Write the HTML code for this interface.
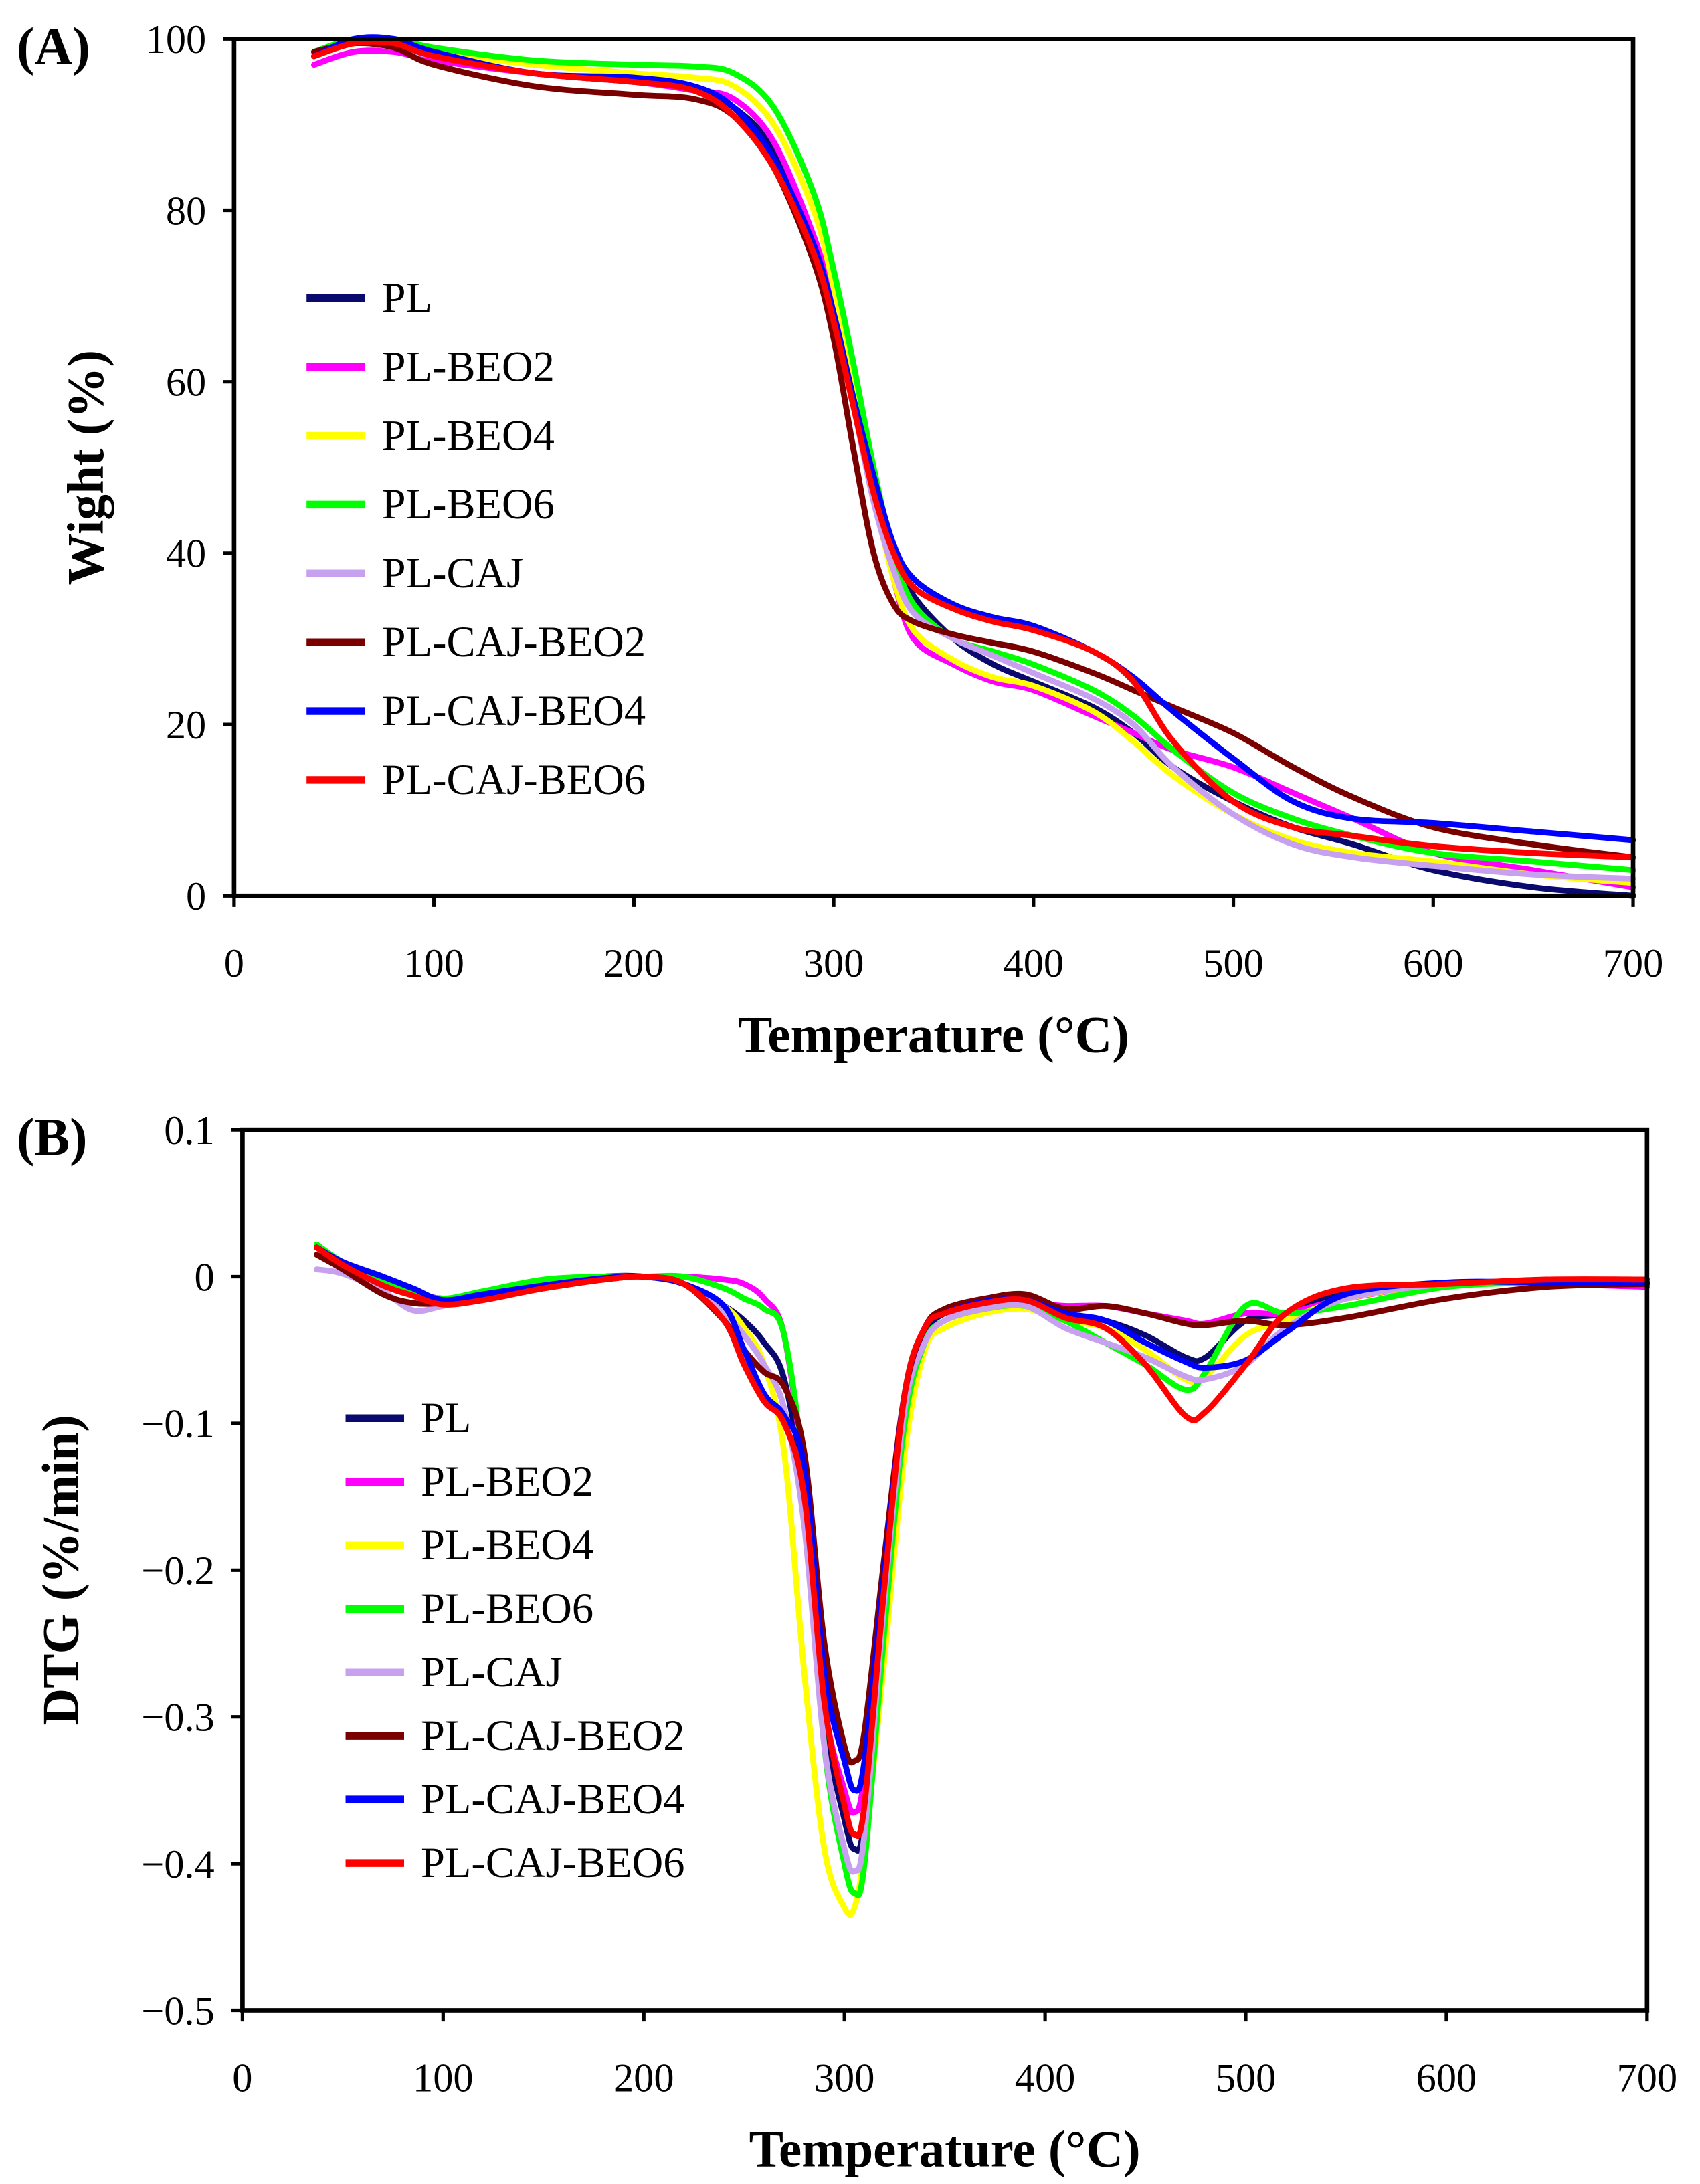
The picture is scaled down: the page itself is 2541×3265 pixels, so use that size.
<!DOCTYPE html>
<html><head><meta charset="utf-8"><style>
html,body{margin:0;padding:0;background:#fff;}
svg{display:block;}
text{font-family:"Liberation Serif",serif;fill:#000;}
</style></head><body>
<svg id="fig" width="2541" height="3265" viewBox="0 0 1220 1567.6" xmlns="http://www.w3.org/2000/svg"></svg>
<script>
// ---------- Data ----------
const series = ["PL","PL-BEO2","PL-BEO4","PL-BEO6","PL-CAJ","PL-CAJ-BEO2","PL-CAJ-BEO4","PL-CAJ-BEO6"];
const colors = ["#0a0a6e","#ff00ff","#ffff00","#00ff00","#c8a0f0","#7a0000","#0000ff","#ff0000"];
const xTicks = [0,100,200,300,400,500,600,700];
const yTicksA = [0,20,40,60,80,100];
const yTicksB = [0.1,0,-0.1,-0.2,-0.3,-0.4,-0.5];

const tgaT = [40,60,80,100,150,200,230,250,270,290,300,310,320,330,340,360,380,400,430,450,470,500,530,560,600,650,700];
const tgaPL   = [98,99.5,99,98,96,95,94,92,87,76,68,58,48,40,35,30,27,25,22,19,15,11,8,6,3,1,0];
const tgaBEO2 = [97,98.5,98.5,97.5,96,95,94,93,88,77,69,58,47,37,30,27,25,24,21,19,17,15,12,9,5,3,1];
const tgaBEO4 = [98,99.5,99.5,98.5,97,96,95.5,94.5,90,80,71,60,47,37,31,27.5,25.5,24.5,21.5,18,14,9.5,6.5,5,4,2.5,1.5];
const tgaBEO6 = [98.5,100,100,99,97.5,97,96.8,96,92,82,73,62,50,40,34,30,28.5,27,24,21,17,12,9,7,5,4,3];
const tgaCAJ  = [98,99.5,99,98,96,95,94,91,85,75,67,57,46,38,33,30,28,26,23,20,15,9.5,6,4.5,3.5,2.5,2];
const tgaCAJBEO2 = [98.5,99.5,99,97,94.5,93.5,93,91,85,74,65,52,40,34,32,30.5,29.5,28.5,26,24,22,19,15,11.5,8,6,4.5];
const tgaCAJBEO4 = [98,100,100,98.5,96,95.5,94.5,92,86,76,68,58,49,41,37,34,32.5,31.5,28.5,25.5,21.5,16,11,9,8.5,7.5,6.5];
const tgaCAJBEO6 = [98,99.5,99.5,98,96,95,94,91,85,75,67,57,47,40,36,33.5,32,31,28.5,25,18,11,8,7,5.8,5,4.5];

const dtgT = [37,50,70,85,100,120,150,180,200,220,240,250,260,270,280,290,300,305,310,320,330,340,350,370,390,410,430,450,470,480,500,520,550,600,650,700];
const dtgPL = [0.02,0.01,0,-0.01,-0.015,-0.012,-0.005,0,0,-0.005,-0.02,-0.03,-0.045,-0.07,-0.15,-0.3,-0.37,-0.39,-0.37,-0.22,-0.09,-0.04,-0.025,-0.018,-0.015,-0.025,-0.03,-0.04,-0.055,-0.055,-0.03,-0.025,-0.01,-0.005,-0.003,-0.003];
const dtgBEO2 = [0.02,0.01,-0.002,-0.01,-0.015,-0.012,-0.005,0,0,0,-0.002,-0.005,-0.015,-0.04,-0.14,-0.29,-0.35,-0.365,-0.34,-0.2,-0.08,-0.035,-0.025,-0.02,-0.018,-0.02,-0.02,-0.025,-0.03,-0.032,-0.025,-0.025,-0.015,-0.005,-0.005,-0.007];
const dtgBEO4 = [0.02,0.01,0,-0.01,-0.016,-0.014,-0.008,-0.002,0,-0.005,-0.02,-0.035,-0.06,-0.12,-0.27,-0.39,-0.43,-0.43,-0.39,-0.26,-0.12,-0.05,-0.035,-0.025,-0.022,-0.03,-0.035,-0.05,-0.07,-0.068,-0.04,-0.03,-0.015,-0.005,-0.003,-0.003];
const dtgBEO6 = [0.022,0.01,-0.002,-0.01,-0.015,-0.01,-0.002,0,0,0,-0.008,-0.015,-0.022,-0.04,-0.14,-0.32,-0.40,-0.42,-0.40,-0.24,-0.10,-0.045,-0.03,-0.022,-0.02,-0.03,-0.045,-0.06,-0.077,-0.065,-0.02,-0.025,-0.02,-0.007,-0.004,-0.003];
const dtgCAJ = [0.005,0.002,-0.01,-0.023,-0.02,-0.015,-0.008,-0.002,0,-0.005,-0.025,-0.04,-0.06,-0.09,-0.17,-0.32,-0.39,-0.405,-0.38,-0.22,-0.09,-0.045,-0.03,-0.022,-0.02,-0.035,-0.045,-0.055,-0.068,-0.07,-0.06,-0.035,-0.015,-0.005,-0.003,-0.003];
const dtgCAJBEO2 = [0.015,0.005,-0.012,-0.018,-0.018,-0.015,-0.008,-0.002,0,-0.005,-0.03,-0.05,-0.065,-0.075,-0.12,-0.25,-0.32,-0.33,-0.31,-0.19,-0.08,-0.035,-0.022,-0.015,-0.012,-0.022,-0.02,-0.025,-0.032,-0.033,-0.03,-0.033,-0.028,-0.015,-0.007,-0.005];
const dtgCAJBEO4 = [0.02,0.01,0,-0.008,-0.016,-0.012,-0.006,-0.001,0,-0.005,-0.02,-0.05,-0.08,-0.095,-0.13,-0.27,-0.33,-0.35,-0.33,-0.2,-0.08,-0.035,-0.025,-0.017,-0.016,-0.025,-0.03,-0.045,-0.058,-0.062,-0.057,-0.038,-0.012,-0.004,-0.004,-0.004];
const dtgCAJBEO6 = [0.02,0.008,-0.006,-0.013,-0.019,-0.016,-0.008,-0.002,0,-0.005,-0.03,-0.06,-0.085,-0.1,-0.15,-0.29,-0.36,-0.38,-0.36,-0.21,-0.08,-0.035,-0.025,-0.018,-0.016,-0.028,-0.035,-0.06,-0.095,-0.092,-0.06,-0.025,-0.008,-0.005,-0.002,-0.002];

const tgaData = [tgaPL,tgaBEO2,tgaBEO4,tgaBEO6,tgaCAJ,tgaCAJBEO2,tgaCAJBEO4,tgaCAJBEO6];
const dtgData = [dtgPL,dtgBEO2,dtgBEO4,dtgBEO6,dtgCAJ,dtgCAJBEO2,dtgCAJBEO4,dtgCAJBEO6];

// ---------- Drawing ----------
const NS="http://www.w3.org/2000/svg";
const svg=document.getElementById('fig');
function mk(tag,attrs,parent){const e=document.createElementNS(NS,tag);for(const k in attrs)e.setAttribute(k,attrs[k]);(parent||svg).appendChild(e);return e;}
function smooth(pts){
  let d="M"+pts[0][0].toFixed(2)+","+pts[0][1].toFixed(2);
  for(let i=0;i<pts.length-1;i++){
    const p0=pts[Math.max(0,i-1)],p1=pts[i],p2=pts[i+1],p3=pts[Math.min(pts.length-1,i+2)];
    const c1=[p1[0]+(p2[0]-p0[0])/6,p1[1]+(p2[1]-p0[1])/6];
    const c2=[p2[0]-(p3[0]-p1[0])/6,p2[1]-(p3[1]-p1[1])/6];
    d+="C"+c1[0].toFixed(2)+","+c1[1].toFixed(2)+" "+c2[0].toFixed(2)+","+c2[1].toFixed(2)+" "+p2[0].toFixed(2)+","+p2[1].toFixed(2);
  }
  return d;
}
function panel(cfg){
  const g=mk('g',{});
  
  
  const xs=v=>cfg.L+(v-0)/700*(cfg.R-cfg.L);
  const ys=v=>cfg.B-(v-cfg.ymin)/(cfg.ymax-cfg.ymin)*(cfg.B-cfg.T);
  const sg=mk('g',{},g);
  
  
  cfg.data.forEach((arr,i)=>{
    const pts=arr.map((v,j)=>[xs(cfg.t[j]),ys(v)]);
    const p=mk('path',{d:smooth(pts),fill:'none',stroke:colors[i],'stroke-width':4.2,'stroke-linejoin':'round','stroke-linecap':'round'},sg);
    
    
  });
  const fr=mk('rect',{x:cfg.L,y:cfg.T,width:cfg.R-cfg.L,height:cfg.B-cfg.T,fill:'none',stroke:'#000','stroke-width':3.2},g);
  
  
  xTicks.forEach(v=>{
    const x=xs(v);
    mk('line',{x1:x,x2:x,y1:cfg.B,y2:cfg.B+8,stroke:'#000','stroke-width':2.5},g);
    const t=mk('text',{x:x,y:cfg.B+58,'font-size':29,'text-anchor':'middle'},g);
    t.textContent=v;
    
    
  });
  cfg.yticks.forEach(v=>{
    const y=ys(v);
    mk('line',{x1:cfg.L-8,x2:cfg.L,y1:y,y2:y,stroke:'#000','stroke-width':2.5},g);
    const t=mk('text',{x:cfg.L-20,y:y+10,'font-size':29,'text-anchor':'end'},g);
    t.textContent=cfg.fmt(v);
    
    
  });
  const xt=mk('text',{x:(cfg.L+cfg.R)/2,y:cfg.B+112,'font-size':37,'font-weight':'bold','text-anchor':'middle'},g);
  xt.textContent='Temperature (°C)';
  
  
  const yc=(cfg.T+cfg.B)/2;
  const yt=mk('text',{x:cfg.ytx,y:yc,'font-size':37,'font-weight':'bold','text-anchor':'middle',transform:'rotate(-90 '+cfg.ytx+' '+yc+')'},g);
  yt.textContent=cfg.ytitle;
  
  
  const pl=mk('text',{x:12,y:cfg.T+18,'font-size':38,'font-weight':'bold'},g);
  pl.textContent=cfg.label;
  
  
  const lg=mk('g',{},g);
  
  
  series.forEach((s,i)=>{
    const y=cfg.legY+i*cfg.legDy;
    const e=mk('g',{},lg);
    
    
    mk('line',{x1:cfg.legX,x2:cfg.legX+42,y1:y,y2:y,stroke:colors[i],'stroke-width':5.5},e);
    const t=mk('text',{x:cfg.legX+54,y:y+10,'font-size':31},e);
    t.textContent=s;
  });
}
const fmtB=v=>v===0?'0':(v<0?'\u2212'+Math.abs(v).toFixed(1):v.toFixed(1));
panel({name:'tga-chart',L:168,R:1172,T:28,B:643,ymin:0,ymax:100,yticks:yTicksA,fmt:v=>String(v),data:tgaData,t:tgaT,
  ytitle:'Wight (%)',ytx:74,label:'(A)',legX:220,legY:214,legDy:49.4});
panel({name:'dtg-chart',L:174,R:1182,T:811,B:1443,ymin:-0.5,ymax:0.1,yticks:yTicksB,fmt:fmtB,data:dtgData,t:dtgT,
  ytitle:'DTG (%/min)',ytx:56,label:'(B)',legX:248,legY:1018,legDy:45.6});
</script>
</body></html>
